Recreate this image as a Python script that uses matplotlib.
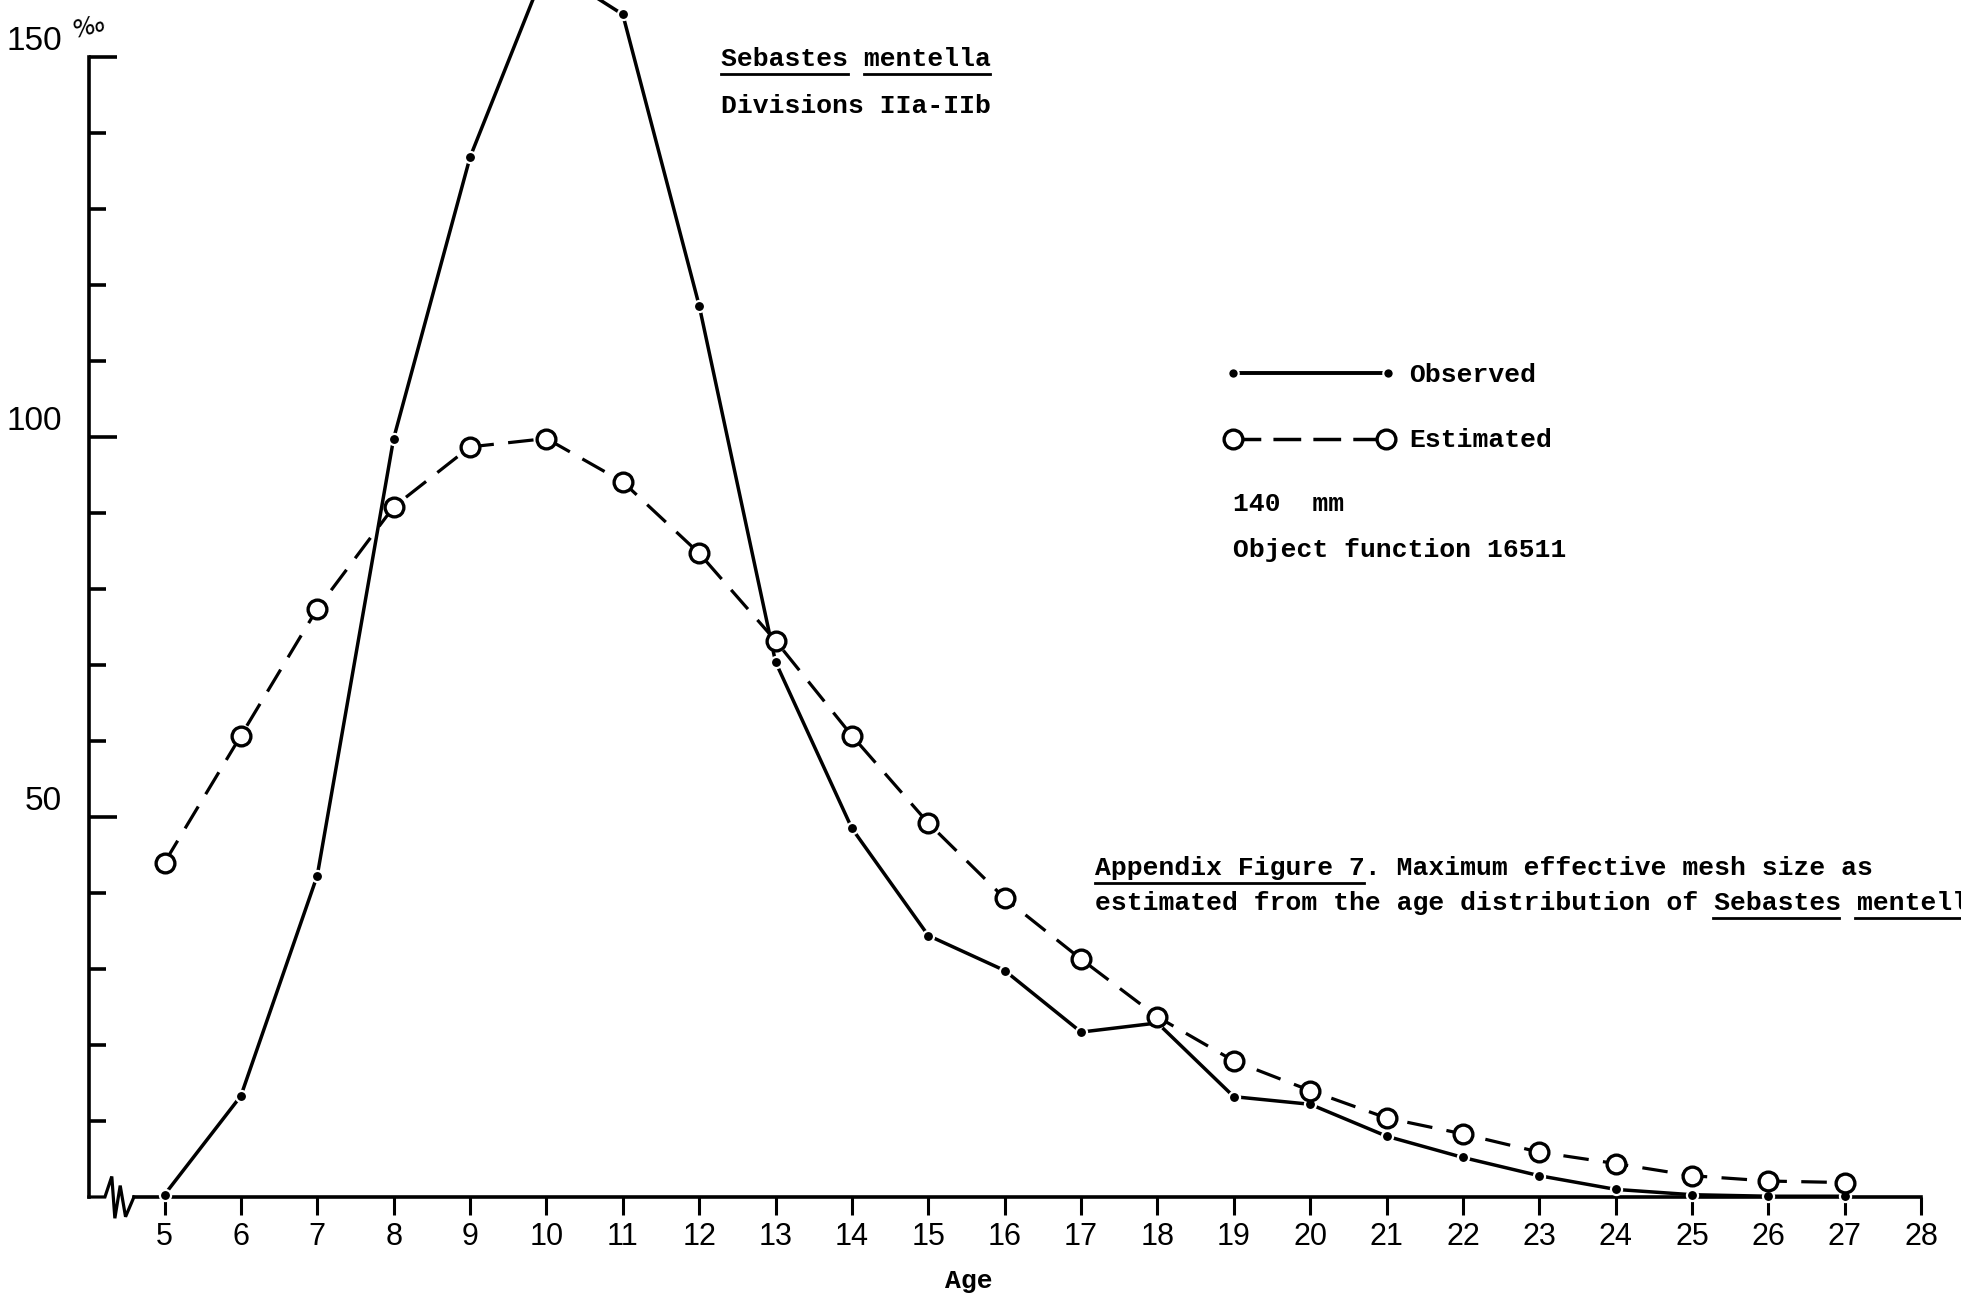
import matplotlib
matplotlib.use('Agg')
import matplotlib.pyplot as plt
import matplotlib.transforms as mtransforms
from matplotlib.lines import Line2D

# values (per mille by age)
ages = list(range(5, 28))
observed = [0.3, 13.3, 42.3, 99.8, 136.8, 162.0, 155.6, 117.3, 70.4, 48.5,
            34.4, 29.8, 21.7, 22.9, 13.2, 12.2, 8.0, 5.2, 2.8, 1.0, 0.3, 0.1, 0.1]
estimated = [44.0, 60.7, 77.4, 90.8, 98.7, 99.8, 94.1, 84.7, 73.2, 60.7,
             49.2, 39.3, 31.3, 23.7, 17.9, 14.0, 10.4, 8.3, 5.9, 4.4, 2.8, 2.1, 1.9]
x_ticks = list(range(5, 29))
y_major = [50, 100, 150]
y_minor = [10, 20, 30, 40, 60, 70, 80, 90, 110, 120, 130, 140]

W, H = 1961, 1300
TYPE = ['Liberation Mono', 'DejaVu Sans Mono']
HAND = ['Liberation Sans', 'DejaVu Sans']

fig = plt.figure(figsize=(W / 100, H / 100), dpi=100)
fig.patch.set_facecolor('white')
ax = fig.add_axes([0, 0, 1, 1])

# pixel frame of the drawing: age 5 at x=164.5, zero at y=1197
x0_px, x_unit = 164.5, 76.38
y0_px, y_unit = 1197.0, 7.6
ax.set_xlim(5 - x0_px / x_unit, 5 + (W - x0_px) / x_unit)
ax.set_ylim(-(H - y0_px) / y_unit, y0_px / y_unit)

y_axis_at = 4.01
for s in ['top', 'right']:
    ax.spines[s].set_visible(False)
ax.spines['left'].set_position(('data', y_axis_at))
ax.spines['left'].set_bounds(0, 150)
ax.spines['bottom'].set_position(('data', 0))
ax.spines['bottom'].set_bounds(4.6, 28)
for s in ['left', 'bottom']:
    ax.spines[s].set_linewidth(2.6)

# axis break zig-zag next to the origin
ax.plot([y_axis_at, 4.22, 4.31, 4.35, 4.42, 4.49, 4.6],
        [0, 0, 2.7, -2.8, 1.5, -2.6, 0], color='black', lw=2.3,
        solid_joinstyle='miter', clip_on=False)

ax.set_xticks(x_ticks, labels=[str(t) for t in x_ticks],
              fontfamily=HAND, fontsize=22)
ax.tick_params(axis='x', direction='out', length=13, width=2.2, pad=5)
ax.set_yticks(y_major, labels=[])
ax.set_yticks(y_minor, minor=True)
ax.tick_params(axis='y', which='major', direction='in', length=20, width=2.6)
ax.tick_params(axis='y', which='minor', direction='in', length=12.5, width=2.6)

lab_off = ax.transData + mtransforms.ScaledTranslation(-0.27, 0.15, fig.dpi_scale_trans)
for v in y_major:
    ax.text(y_axis_at, v, str(v), transform=lab_off, ha='right', va='center',
            fontsize=24, fontfamily=HAND)
ax.text(y_axis_at, 150, '‰', transform=ax.transData +
        mtransforms.ScaledTranslation(0.0, 0.3, fig.dpi_scale_trans),
        ha='center', va='center', fontsize=18, style='italic', rotation=15)

ax.plot(ages, observed, color='black', lw=2.5, marker='o', ms=8,
        mfc='black', mec='white', mew=1.6, zorder=3)
est, = ax.plot(ages, estimated, color='black', lw=2.3, marker='o', ms=13.5,
               mfc='white', mec='black', mew=2.4, zorder=4)
est.set_dashes((8, 4.5))


def px(x, y):
    return x / W, 1 - y / H


def type_text(x, y, s, fs=19.0, underline=()):
    fig.text(*px(x, y), s, ha='left', va='center', fontsize=fs,
             fontfamily=TYPE, fontweight='bold')
    cw = 0.6 * fs * 100 / 72
    uy = y + 0.56 * fs * 100 / 72
    for a, b in underline:
        fig.add_artist(Line2D([px(x + a * cw, 0)[0], px(x + b * cw, 0)[0]],
                              [px(0, uy)[1]] * 2, transform=fig.transFigure,
                              color='black', lw=2.0))


type_text(721, 59, 'Sebastes mentella', underline=[(0, 8), (9, 17)])
type_text(721, 106, 'Divisions IIa-IIb')
type_text(1409, 375, 'Observed')
type_text(1409, 440, 'Estimated')
type_text(1233, 504, '140  mm')
type_text(1233, 550, 'Object function 16511')
type_text(1095, 868, 'Appendix Figure 7. Maximum effective mesh size as',
          underline=[(0, 17)])
type_text(1095, 903, 'estimated from the age distribution of Sebastes mentella',
          underline=[(39, 47), (48, 56)])
fig.text(*px(969, 1281), 'Age', ha='center', va='center', fontsize=19,
         fontfamily=TYPE, fontweight='bold')

# hand-drawn key
fig.add_artist(Line2D([px(1233, 0)[0], px(1388, 0)[0]], [px(0, 373)[1]] * 2,
                      transform=fig.transFigure, color='black', lw=2.8,
                      marker='o', ms=7.5, mfc='black', mec='white', mew=1.5))
key_est = Line2D([px(1233, 0)[0], px(1386, 0)[0]], [px(0, 439)[1]] * 2,
                 transform=fig.transFigure, color='black', lw=2.5, marker='o',
                 ms=13.5, mfc='white', mec='black', mew=2.4)
key_est.set_dashes((8, 3.5))
fig.add_artist(key_est)

fig.savefig('out.png', dpi=100, facecolor='white')
